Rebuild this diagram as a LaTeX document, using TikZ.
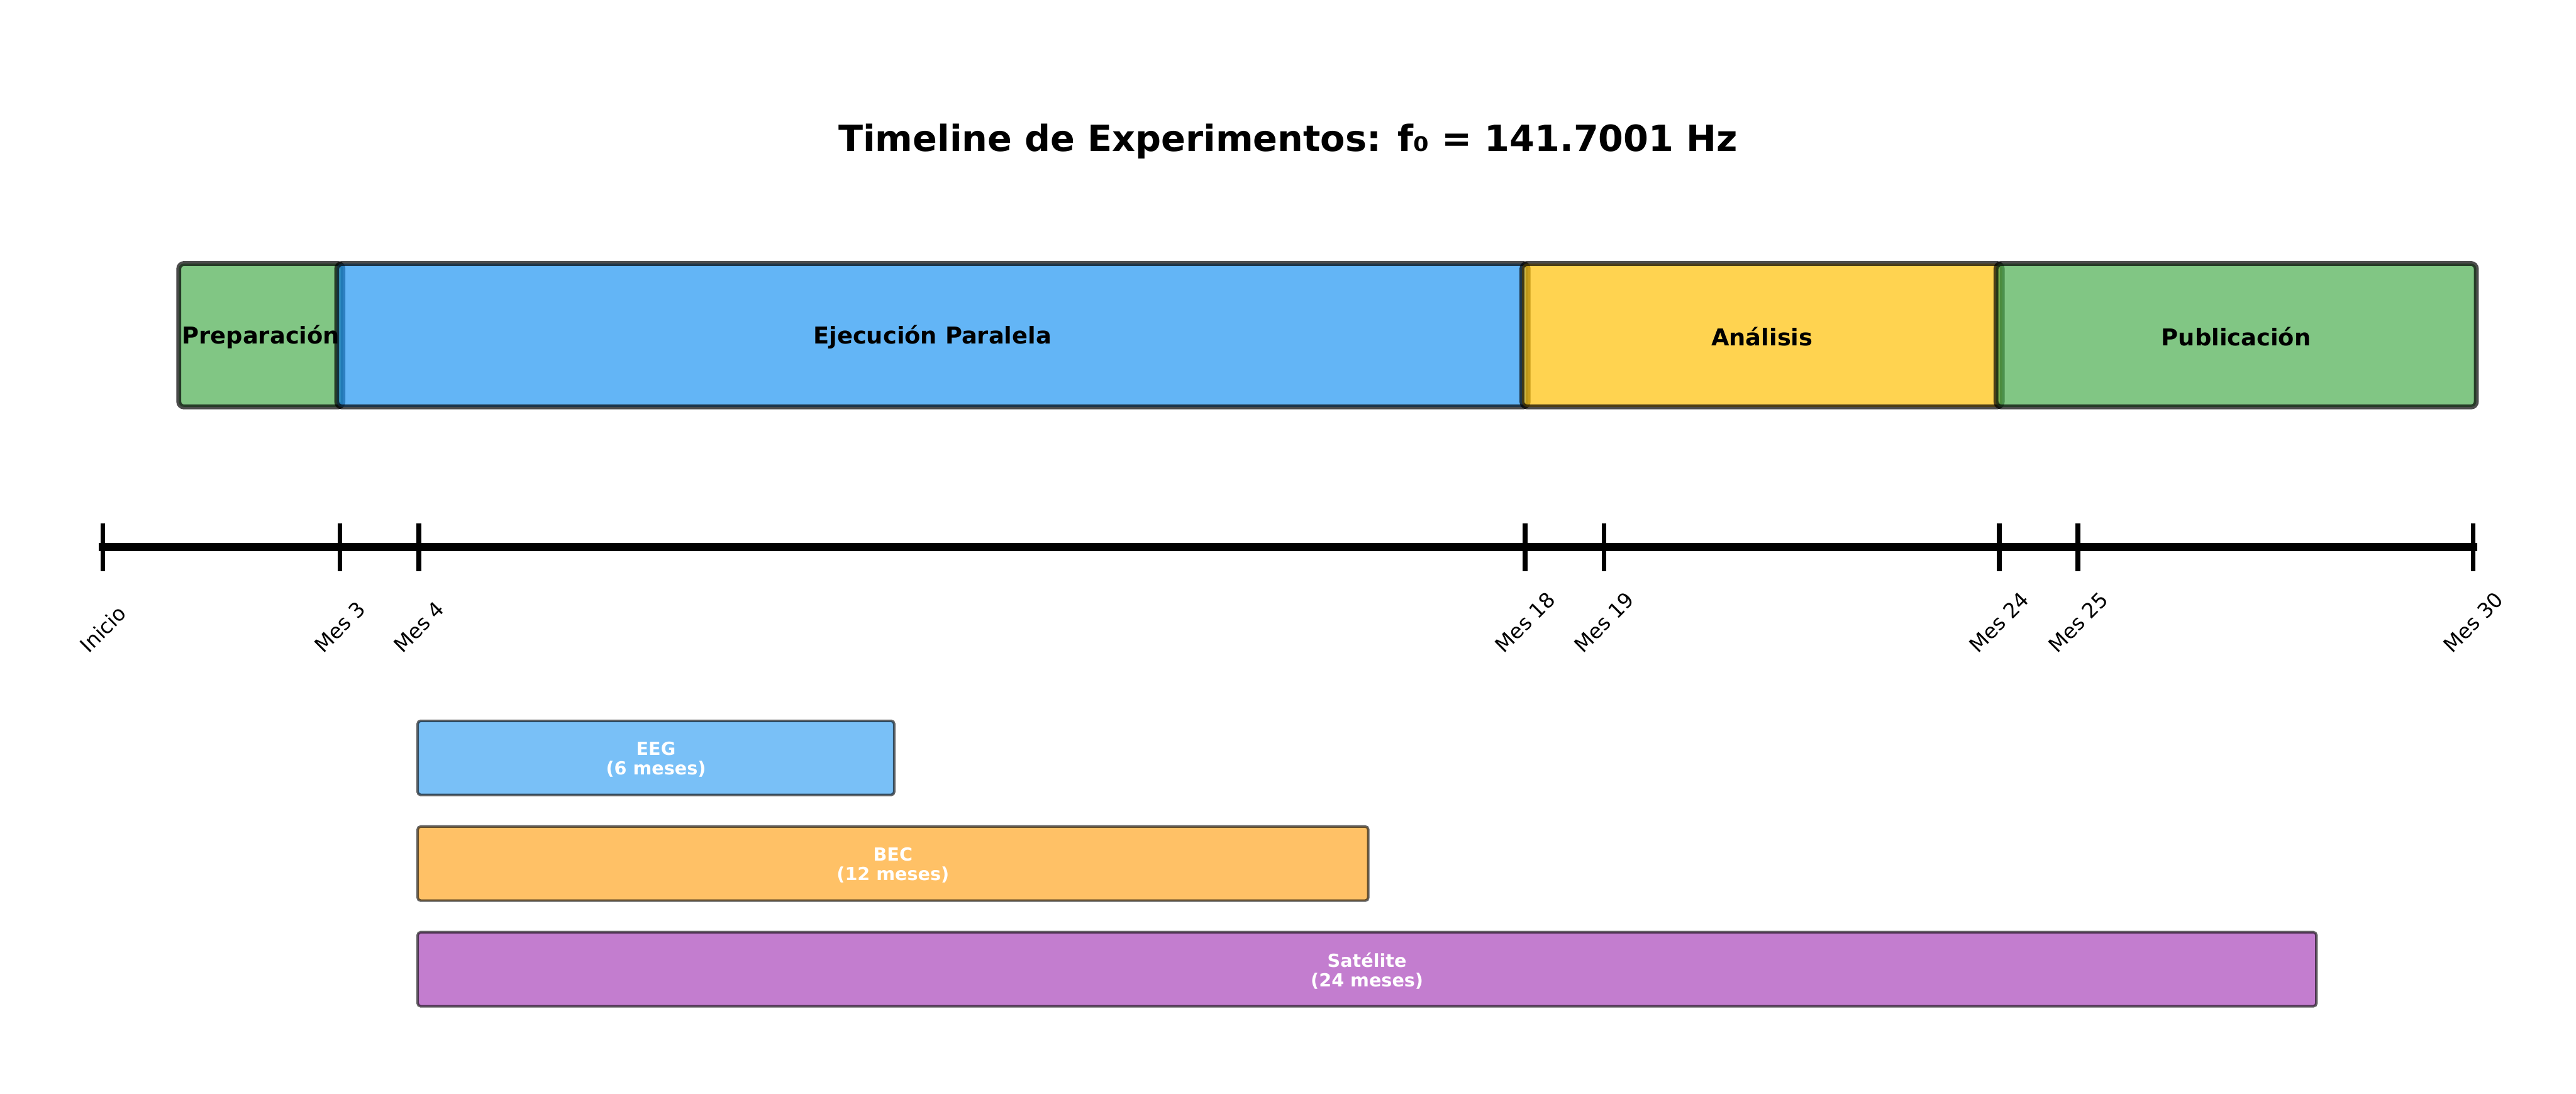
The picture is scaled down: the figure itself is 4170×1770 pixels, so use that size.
\documentclass[tikz,border=0pt]{standalone}
\usepackage{fontspec}
\setmainfont{DejaVu Sans}
\usepackage{graphicx}
\definecolor{cgreen}{HTML}{4CAF50}
\definecolor{cblue}{HTML}{2196F3}
\definecolor{cyellow}{HTML}{FFC107}
\definecolor{corange}{HTML}{FF9800}
\definecolor{cpurple}{HTML}{9C27B0}
\begin{document}
\begin{tikzpicture}[x=0.24pt,y=-0.24pt,
  phasebox/.style={draw=black, draw opacity=0.7, fill opacity=0.7, line width=1.9pt,
    rounded corners=2pt, inner sep=0pt, minimum height=232*0.24pt},
  phaselabel/.style={inner sep=0pt, yshift=-0.6pt, font=\bfseries\fontsize{9}{10.8}\selectfont},
  expbox/.style={draw=black, draw opacity=0.6, fill opacity=0.6, line width=1pt,
    rounded corners=1.2pt, inner sep=0pt, minimum height=120*0.24pt},
  explabel/.style={inner sep=0pt, yshift=-0.6pt, text=white, align=center,
    font=\bfseries\fontsize{7}{7.6}\selectfont},
  tickmark/.style={line width=1.9pt},
  ticklabel/.style={anchor=south, inner sep=0pt, font=\fontsize{8}{9.6}\selectfont}]
\useasboundingbox (0,0) rectangle (4170,1770);
\fill[white] (0,0) rectangle (4170,1770);

% title
\node[anchor=base, inner sep=0pt, font=\bfseries\fontsize{14}{16.8}\selectfont] (title) at (2085,245)
  {Timeline de Experimentos: f₀ = 141.7001 Hz};

% phase boxes
\node[phasebox, fill=cgreen,  minimum width=265.8*0.24pt]  (prep) at (422.3,542.5) {};
\node[phasebox, fill=cblue,   minimum width=1928.5*0.24pt] (ejec) at (1509.45,542.5) {};
\node[phasebox, fill=cyellow, minimum width=777.4*0.24pt]  (anal) at (2852.4,542.5) {};
\node[phasebox, fill=cgreen,  minimum width=777.4*0.24pt]  (publ) at (3619.8,542.5) {};
\node[phaselabel] (prepL) at (prep.center) {Preparación};
\node[phaselabel] (ejecL) at (ejec.center) {Ejecución Paralela};
\node[phaselabel] (analL) at (anal.center) {Análisis};
\node[phaselabel] (publL) at (publ.center) {Publicación};

% timeline
\coordinate (t0)  at (166.5,885.5);
\coordinate (t3)  at (550.2,885.5);
\coordinate (t4)  at (678.1,885.5);
\coordinate (t18) at (2468.7,885.5);
\coordinate (t19) at (2596.6,885.5);
\coordinate (t24) at (3236.1,885.5);
\coordinate (t25) at (3364.0,885.5);
\coordinate (t30) at (4003.5,885.5);
\draw[line width=3.1pt, line cap=rect] (t0) -- (t30);
\foreach \t in {t0,t3,t4,t18,t19,t24,t25,t30}
  \draw[tickmark] (\t) ++(0,-38.5) -- ++(0,77);

\node[ticklabel] (l0)  at (166.5,1059)  {\rotatebox{45}{Inicio}};
\node[ticklabel] (l3)  at (550.2,1059)  {\rotatebox{45}{Mes 3}};
\node[ticklabel] (l4)  at (678.1,1059)  {\rotatebox{45}{Mes 4}};
\node[ticklabel] (l18) at (2468.7,1059) {\rotatebox{45}{Mes 18}};
\node[ticklabel] (l19) at (2596.6,1059) {\rotatebox{45}{Mes 19}};
\node[ticklabel] (l24) at (3236.1,1059) {\rotatebox{45}{Mes 24}};
\node[ticklabel] (l25) at (3364.0,1059) {\rotatebox{45}{Mes 25}};
\node[ticklabel] (l30) at (4003.5,1059) {\rotatebox{45}{Mes 30}};

% experiment boxes
\node[expbox, fill=cblue,   minimum width=771.4*0.24pt]  (eeg) at (1061.8,1226.5) {};
\node[expbox, fill=corange, minimum width=1538.8*0.24pt] (bec) at (1445.5,1397.5) {};
\node[expbox, fill=cpurple, minimum width=3073.6*0.24pt] (sat) at (2212.9,1568.5) {};
\node[explabel] (eegL) at (eeg.center) {EEG\\(6 meses)};
\node[explabel] (becL) at (bec.center) {BEC\\(12 meses)};
\node[explabel] (satL) at (sat.center) {Satélite\\(24 meses)};
\end{tikzpicture}
\end{document}
